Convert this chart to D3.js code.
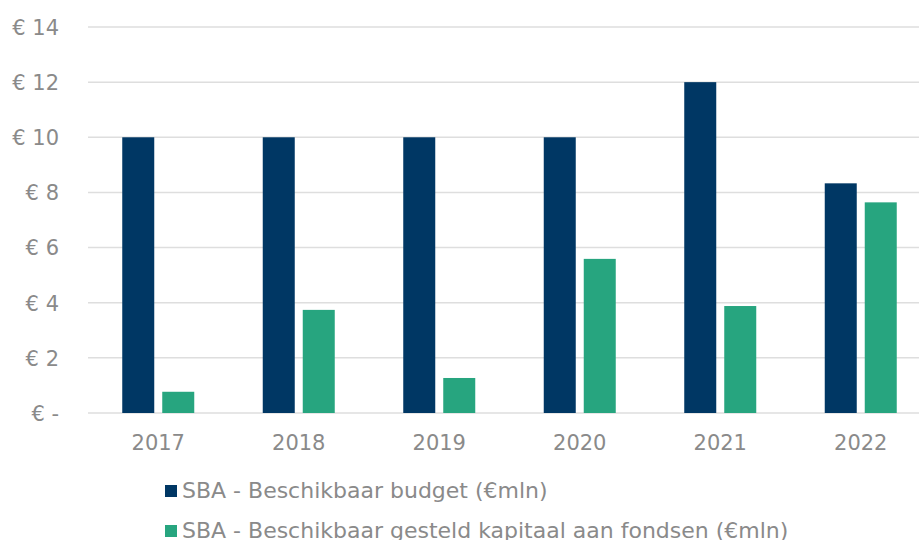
<!DOCTYPE html>
<html>
<head>
<meta charset="utf-8">
<script src="https://cdn.jsdelivr.net/npm/d3@7"></script>
<style>
  body { margin: 0; background: #fff; }
  text { font-family: "DejaVu Sans", Verdana, sans-serif; fill: #8a8a8a; }
</style>
</head>
<body>
<div id="chart"></div>
<script>
// data
var years = ["2017", "2018", "2019", "2020", "2021", "2022"];
var budget = [10, 10, 10, 10, 12, 8.33];
var kapitaal = [0.77, 3.74, 1.27, 5.59, 3.88, 7.64];
var seriesNames = ["SBA - Beschikbaar budget (€mln)", "SBA - Beschikbaar gesteld kapitaal aan fondsen (€mln)"];
var colors = ["#003764", "#27a57f"];
var yTicks = [0, 2, 4, 6, 8, 10, 12, 14];

var width = 919, height = 540;
var margin = {top: 27, left: 88, bottom: 127};
var plotRight = 931; // plot runs past the picture edge

var svg = d3.select("#chart").append("svg")
  .attr("width", width)
  .attr("height", height);

var x = d3.scaleBand()
  .domain(years)
  .range([margin.left, plotRight]);

var y = d3.scaleLinear()
  .domain([0, 14])
  .range([height - margin.bottom, margin.top]);

// gridlines
svg.append("g").selectAll("line")
  .data(yTicks)
  .enter().append("line")
  .attr("x1", margin.left)
  .attr("x2", plotRight)
  .attr("y1", function(d) { return y(d); })
  .attr("y2", function(d) { return y(d); })
  .attr("stroke", "#dedede")
  .attr("stroke-width", 1.5);

// y axis labels
var yaxis = d3.axisLeft(y).tickValues(yTicks).tickSize(0).tickPadding(0)
  .tickFormat(function(d) { return d === 0 ? "€ -" : "€ " + d; });
var ya = svg.append("g").attr("transform", "translate(" + 59 + ",0)").call(yaxis);
ya.select(".domain").remove();
ya.selectAll("text").style("font-size", "21px").attr("fill", null).attr("dy", "0.35em");

// x axis labels
var xaxis = d3.axisBottom(x).tickSize(0).tickPadding(0);
var xa = svg.append("g").attr("transform", "translate(0," + (y(0) + 37) + ")").call(xaxis);
xa.select(".domain").remove();
xa.selectAll("text").style("font-size", "21px").attr("fill", null).attr("dy", "0");

// bars
var barW = 32, gap = 8;
var series = [budget, kapitaal];
series.forEach(function(vals, s) {
  svg.append("g").selectAll("rect")
    .data(vals)
    .enter().append("rect")
    .attr("x", function(d, i) {
      var c = x(years[i]) + x.bandwidth() / 2;
      return s === 0 ? c - gap / 2 - barW : c + gap / 2;
    })
    .attr("y", function(d) { return y(d); })
    .attr("width", barW)
    .attr("height", function(d) { return y(0) - y(d); })
    .attr("fill", colors[s]);
});

// legend
var legend = svg.append("g");
seriesNames.forEach(function(name, i) {
  var ly = 491 + i * 40;
  legend.append("rect")
    .attr("x", 165).attr("y", ly - 6)
    .attr("width", 12).attr("height", 12)
    .attr("fill", colors[i]);
  legend.append("text")
    .attr("x", 182).attr("y", ly + 7)
    .style("font-size", "22px")
    .text(name);
});
</script>
</body>
</html>
